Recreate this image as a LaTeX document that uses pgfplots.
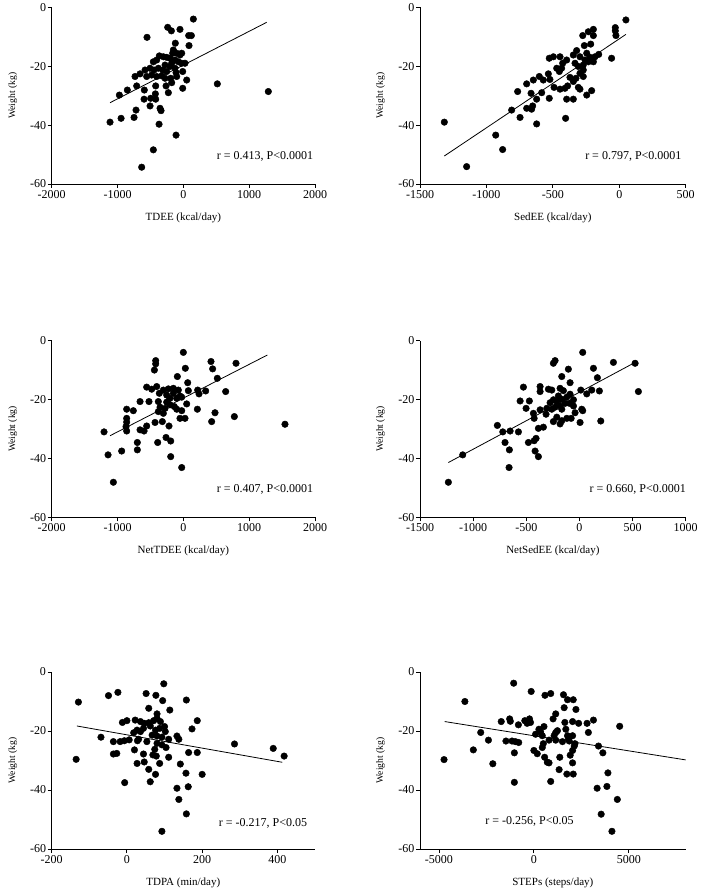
\documentclass[border=0pt]{standalone}
\usepackage{fontspec}
\setmainfont{Liberation Serif}
\usepackage{pgfplots}
\pgfplotsset{compat=1.18}
\tikzset{ann/.style={font=\fontsize{12}{14}\selectfont}}
\pgfplotsset{
  panel/.style={
    scale only axis,
    anchor=south west,
    height=176.7pt,
    ymin=-60, ymax=0,
    ytick={-60,-40,-20,0},
    axis x line*=bottom,
    axis y line*=left,
    axis line style={-, line width=0.9pt, black},
    tick align=outside,
    major tick length=4pt,
    tick style={line width=0.9pt, black},
    ticklabel style={font=\fontsize{12}{14}\selectfont},
    xticklabel style={inner sep=2pt},
    yticklabel style={inner sep=1.5pt},
    /pgf/number format/assume math mode=true,
    /pgf/number format/set thousands separator={},
    ylabel={Weight (kg)},
    every axis y label/.style={at={(axis description cs:-0.148,0.5)}, rotate=90, anchor=center, font=\fontsize{9.6}{11}\selectfont},
    every axis x label/.style={at={(axis description cs:0.5,-0.192)}, anchor=center, font=\fontsize{11}{13}\selectfont},
  },
  dots/.style={only marks, mark=*, mark size=3.3pt, black, mark options={fill=black, draw=black}},
  fit/.style={no marks, black, line width=0.8pt},
}
\begin{document}
\begin{tikzpicture}
\useasboundingbox (0,0) rectangle (703pt,892pt);
% Panel 1: TDEE
\begin{axis}[panel, at={(51.7pt,708pt)}, width=263.3pt,
  xmin=-2000, xmax=2000, xtick={-2000,-1000,0,1000,2000},
  xlabel={TDEE (kcal/day)}]
\addplot[dots] coordinates {
(152,-4.0) (-238,-6.8) (-182,-8.0) (-51,-7.5) (-552,-10.2) (81,-9.6) (122,-9.6) (86,-13.0) (-122,-12.2) (-152,-14.5) (-162,-15.6)
(-365,-16.5) (-304,-16.8) (-253,-17) (-203,-17.3) (-101,-15.6) (-51,-16.2) (-25,-15.6) (-456,-18.5) (-405,-17.9) (-127,-17.9)
(-76,-18.5) (-25,-19) (-177,-19) (-278,-19.6) (-506,-20.7) (-445,-21.3) (-380,-20.7) (-314,-21.3) (-253,-21.8) (-203,-20.1)
(-127,-20.7) (-111,-22.2) (-582,-21.3) (-658,-22.6) (-734,-23.5) (-557,-23.5) (-481,-23) (-405,-23.5) (-329,-23.3) (-278,-24.1)
(-192,-24.1) (-101,-23.5) (51,-24.7) (-177,-25.6) (-263,-26.7) (-420,-26.7) (-709,-26.7) (-593,-28.1) (-851,-28.1) (-972,-29.8)
(-10,-27.5) (-228,-29) (-425,-29.4) (-597,-31.2) (-420,-31.2) (-496,-30.9) (-506,-33.5) (-354,-34.3) (-339,-35.1) (-719,-34.9)
(-749,-37.4) (-946,-37.7) (-1114,-39) (-369,-39.7) (-111,-43.4) (-456,-48.4) (-633,-54.3) (516,-26) (1291,-28.6) (25,-19) (-10,-21.8)
};
\addplot[fit] coordinates {(-1114,-32.4) (1266,-5.1)};
\node[ann] at (axis cs:1240,-50.5) {r = 0.413, P<0.0001};
\end{axis}
% Panel 2: SedEE
\begin{axis}[panel, at={(420pt,708pt)}, width=265.7pt,
  xmin=-1500, xmax=500, xtick={-1500,-1000,-500,0,500},
  xlabel={SedEE (kcal/day)}]
\addplot[dots] coordinates {
(50,-4.3) (-30,-6.9) (-30,-8) (-25,-9.6) (-195,-7.5) (-233,-8.3) (-195,-9.6) (-275,-9.6) (-215,-12.5) (-263,-13) (-321,-14.7)
(-155,-16) (-183,-16.8) (-220,-17) (-245,-15.6) (-296,-16.8) (-346,-16.2) (-58,-17.3) (-195,-18.5) (-233,-18.5) (-258,-17.9)
(-446,-16.8) (-496,-16.8) (-527,-17.3) (-396,-17.9) (-426,-19) (-333,-19) (-308,-20.1) (-271,-19.6) (-271,-21.3) (-296,-22.4)
(-271,-23.5) (-326,-24.1) (-371,-23.8) (-346,-25.2) (-434,-20.7) (-471,-20.7) (-451,-21.8) (-534,-22.6) (-602,-23.5) (-572,-24.7)
(-522,-24.5) (-647,-24.7) (-697,-26) (-491,-27.2) (-446,-27.8) (-409,-27.5) (-389,-26.7) (-308,-27.2) (-296,-27.8) (-208,-28.3)
(-245,-29.8) (-396,-31.2) (-346,-31.2) (-527,-30.9) (-622,-31.2) (-584,-29) (-664,-29.2) (-765,-28.6) (-810,-34.9) (-697,-34.3)
(-660,-34.6) (-652,-33.5) (-747,-37.4) (-622,-39.6) (-404,-37.7) (-1317,-39) (-930,-43.4) (-878,-48.3) (-1149,-54.1)
};
\addplot[fit] coordinates {(-1317,-50.5) (50,-9.2)};
\node[ann] at (axis cs:106,-50.7) {r = 0.797, P<0.0001};
\end{axis}
% Panel 3: NetTDEE
\begin{axis}[panel, at={(51.7pt,374.7pt)}, width=263.3pt,
  xmin=-2000, xmax=2000, xtick={-2000,-1000,0,1000,2000},
  xlabel={NetTDEE (kcal/day)}]
\addplot[dots] coordinates {
(0,-4) (-420,-6.8) (-420,-7.9) (-440,-10) (30,-9.4) (420,-7.1) (445,-9.6) (800,-7.7) (516,-12.8) (-91,-12.2) (66,-14.3)
(-557,-15.8) (-405,-15.6) (-481,-16.5) (-304,-16.8) (-228,-16.4) (-152,-16.2) (-76,-16.8) (76,-17) (238,-18.1) (339,-17.1)
(218,-16.8) (643,-17.3) (-365,-17.9) (-253,-18.5) (-152,-17.9) (-51,-18.8) (-203,-19.6) (-101,-19.6) (-25,-19.2) (-380,-20.7)
(-658,-20.7) (-522,-20.7) (51,-21.5) (-253,-20.9) (-203,-21.8) (-354,-22.6) (-278,-23) (-137,-22.4) (-101,-23.3) (-25,-23.8)
(213,-23.3) (-861,-23.3) (-760,-23.8) (-380,-24.1) (-304,-24.7) (481,-24.5) (-51,-26.4) (25,-26.4) (-861,-26.4) (-861,-27.7)
(-871,-29.2) (-861,-30.7) (430,-27.5) (775,-25.8) (1544,-28.4) (-557,-29) (-597,-30.7) (-658,-30.3) (-319,-27.5) (-430,-27.8)
(-218,-29) (-1205,-31) (-263,-32.9) (-192,-34.1) (-390,-34.6) (-699,-34.6) (-699,-37.1) (-937,-37.5) (-1144,-38.8) (-192,-39.4)
(-25,-43.1) (-1063,-48.1)
};
\addplot[fit] coordinates {(-1114,-32.3) (1276,-4.9)};
\node[ann] at (axis cs:1240,-50.7) {r = 0.407, P<0.0001};
\end{axis}
% Panel 4: NetSedEE
\begin{axis}[panel, at={(420pt,374.7pt)}, width=265.7pt,
  xmin=-1500, xmax=1000, xtick={-1500,-1000,-500,0,500,1000},
  xlabel={NetSedEE (kcal/day)}]
\addplot[dots] coordinates {
(31,-4) (-245,-7.7) (-229,-6.8) (320,-7.4) (524,-7.7) (132,-9.4) (-104,-9.7) (-166,-12.2) (169,-12.6) (-88,-14.3)
(-527,-15.8) (-370,-15.6) (-370,-17.3) (-292,-16.5) (-260,-16.8) (-182,-16.2) (-151,-17) (13,-16.8) (116,-16.8) (188,-17.1)
(555,-17.3) (69,-18.1) (-88,-18.2) (-119,-19.2) (-198,-18.8) (-166,-19.9) (-213,-20.7) (-245,-20.1) (-276,-21.1) (-471,-20.5)
(-558,-20.5) (-94,-21.3) (-56,-20.1) (-135,-21.3) (-182,-22.2) (-229,-22.6) (-260,-23.3) (-307,-23) (-370,-23.5) (-502,-23)
(-166,-23.3) (-56,-22.2) (22,-23.3) (31,-23.8) (-41,-24.5) (-433,-24.7) (-314,-25) (-426,-26.4) (-213,-26) (-119,-26.4)
(-78,-26.4) (-166,-27.2) (-245,-27.5) (-182,-28.3) (6,-27.8) (201,-27.3) (-772,-28.8) (-339,-29.4) (-386,-29.8) (-721,-31)
(-652,-30.7) (-574,-31) (-408,-33.2) (-426,-34) (-480,-34.6) (-700,-34.6) (-659,-37.1) (-417,-37.5) (-386,-39.4) (-1098,-38.8)
(-662,-43.1) (-1233,-48.1)
};
\addplot[fit] coordinates {(-1233,-41.4) (524,-7.4)};
\node[ann] at (axis cs:549,-50.7) {r = 0.660, P<0.0001};
\end{axis}
% Panel 5: TDPA
\begin{axis}[panel, at={(51.7pt,43pt)}, width=263.3pt, height=177pt,
  xmin=-200, xmax=500, xtick={-200,0,200,400},
  xlabel={TDPA (min/day)}]
\addplot[dots] coordinates {
(98,-4) (51,-7.3) (77,-7.9) (-24,-6.9) (-49,-8) (-129,-10.2) (95,-9.7) (158,-9.5) (58,-12.3) (114,-12.9) (187,-16.5)
(173,-19.3) (-12,-17.1) (0,-16.5) (22,-16.3) (36,-16.8) (46,-17.4) (58,-17.2) (71,-16.5) (80,-15.7) (89,-16.8) (80,-14.2)
(62,-18.3) (44,-19.1) (36,-20.2) (18,-20.6) (27,-19.7) (76,-19.7) (87,-19.1) (100,-18.5) (102,-20.2) (67,-21.4) (80,-21.7)
(93,-22.1) (111,-22.8) (133,-21.7) (138,-22.8) (-69,-22.1) (-36,-23.6) (-18,-23.6) (-7,-23.3) (6,-23) (31,-22.8) (53,-23.6)
(28,-23.3) (80,-24.2) (93,-24.7) (104,-25.6) (74,-26.2) (20,-26.4) (-36,-27.8) (-27,-27.6) (44,-27.8) (69,-28.1) (78,-28.5)
(111,-28.9) (164,-27.3) (187,-27.3) (286,-24.4) (389,-25.9) (418,-28.5) (-135,-29.6) (27,-31) (46,-30.5) (87,-31) (142,-31.2)
(58,-33) (76,-34.7) (157,-34.3) (200,-34.7) (-6,-37.5) (62,-37.2) (163,-38.9) (133,-39.4) (138,-43.2) (158,-48.1) (93,-54)
};
\addplot[fit] coordinates {(-133,-18.3) (413,-30.6)};
\node[ann] at (axis cs:362,-51.5) {r = -0.217, P<0.05};
\end{axis}
% Panel 6: STEPs
\begin{axis}[panel, at={(420pt,43pt)}, width=265.7pt, height=177pt,
  xmin=-6000, xmax=8000, xtick={-5000,0,5000},
  xlabel={STEPs (steps/day)}]
\addplot[dots] coordinates {
(-1064,-3.8) (-142,-6.6) (585,-7.9) (887,-7.3) (1560,-7.7) (1773,-9.4) (2074,-9.4) (-3635,-10) (2216,-12.7) (1596,-12.1)
(1152,-14.2) (1011,-15.9) (-1720,-16.8) (-1277,-15.9) (-1241,-16.7) (-479,-16.5) (-230,-15.9) (-177,-17.1) (-355,-17.4) (-816,-17.9)
(532,-18.5) (1631,-17.1) (2039,-16.8) (2358,-17.4) (2801,-17.4) (3138,-16.3) (4521,-18.4) (1241,-19.9) (266,-19.4) (355,-20.3)
(1152,-20.5) (1684,-19.4) (2872,-20.5) (-2801,-20.5) (89,-21.1) (443,-21.6) (1064,-21.6) (1773,-21.6) (2039,-21.6) (1826,-22.8)
(-2394,-23.1) (-1472,-23.4) (-1152,-23.4) (-975,-23.6) (-798,-23.9) (798,-23.1) (1152,-23.1) (1507,-23.6) (1862,-23.4) (496,-24.3)
(2163,-24.3) (2127,-25.1) (443,-25.6) (3404,-25.1) (-3191,-26.4) (0,-26.6) (177,-27.7) (2039,-26.6) (1915,-28.2) (3635,-27.4)
(-1028,-27.4) (567,-28.9) (1365,-28.9) (709,-30.6) (798,-30.8) (-4734,-29.7) (-2163,-31.1) (2039,-30.8) (1330,-33.1) (1738,-34.6)
(2074,-34.6) (3901,-34.2) (-1028,-37.4) (887,-37.1) (3333,-39.4) (3848,-38.8) (4397,-43.2) (3546,-48.2) (4113,-54)
};
\addplot[fit] coordinates {(-4698,-16.8) (8000,-29.8)};
\node[ann] at (axis cs:-230,-50.6) {r = -0.256, P<0.05};
\end{axis}
\end{tikzpicture}
\end{document}
